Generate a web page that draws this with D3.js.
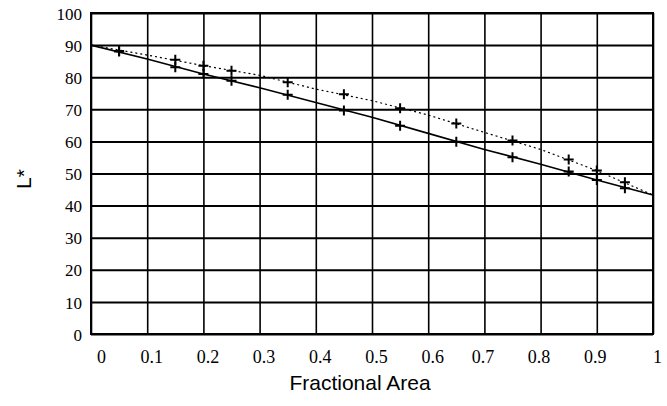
<!DOCTYPE html>
<html>
<head>
<meta charset="utf-8">
<script src="https://cdnjs.cloudflare.com/ajax/libs/d3/7.8.5/d3.min.js"></script>
<style>
  body { margin: 0; background: #fff; }
  .tick text { font-family: "Liberation Serif", "Times New Roman", serif; fill: #000; }
  .axis-title { font-family: "Liberation Sans", Arial, sans-serif; fill: #000; }
</style>
</head>
<body>
<div id="V1"></div>
<script>
// curve values read at every 0.1 of fractional area
const lineX = [0, 0.1, 0.2, 0.3, 0.4, 0.5, 0.6, 0.7, 0.8, 0.9, 1];
const upperLine = [90, 86.9, 83.6, 80.6, 76.3, 72.7, 68.2, 62.8, 57.5, 50.9, 43.3];
const lowerLine = [90, 85.7, 81.0, 76.7, 72.1, 67.5, 62.5, 57.5, 52.9, 48.0, 43.3];

// measured points (+ markers)
const pointX = [0.05, 0.15, 0.2, 0.25, 0.35, 0.45, 0.55, 0.65, 0.75, 0.85, 0.9, 0.95];
const upperPoints = [88.2, 85.4, 83.6, 82.0, 78.4, 74.7, 70.3, 65.6, 60.3, 54.4, 50.9, 47.3];
const lowerPoints = [88.0, 83.1, 81.0, 78.9, 74.5, 69.6, 64.9, 59.9, 55.1, 50.6, 48.0, 45.4];

const xTicks = [0, 0.1, 0.2, 0.3, 0.4, 0.5, 0.6, 0.7, 0.8, 0.9, 1];
const yTicks = [0, 10, 20, 30, 40, 50, 60, 70, 80, 90, 100];

const margin = { top: 13, right: 14, bottom: 72, left: 91 },
  width  = 667 - margin.left - margin.right,
  height = 406 - margin.top - margin.bottom;

const svg = d3.select("#V1").append("svg")
  .attr("width", 667)
  .attr("height", 406);

const canvas = svg.append("g")
  .attr("transform", "translate(" + margin.left + "," + margin.top + ")");

const xScale = d3.scaleLinear().domain([0, 1]).range([0, width]);
const yScale = d3.scaleLinear().domain([0, 100]).range([height, 0]);

// grid
canvas.append("g")
  .attr("class", "grid grid-x")
  .attr("transform", "translate(0," + height + ")")
  .call(d3.axisBottom(xScale).tickValues(xTicks).tickSize(-height).tickFormat(""))
  .call(g => g.select(".domain").remove());

canvas.append("g")
  .attr("class", "grid grid-y")
  .call(d3.axisLeft(yScale).tickValues(yTicks).tickSize(-width).tickFormat(""))
  .call(g => g.select(".domain").remove());

canvas.selectAll(".grid-x line")
  .attr("stroke", "#000")
  .attr("stroke-width", 1.6);
canvas.selectAll(".grid-y line")
  .attr("stroke", "#000")
  .attr("stroke-width", 2);

// frame
canvas.append("rect")
  .attr("width", width)
  .attr("height", height)
  .attr("fill", "none")
  .attr("stroke", "#000")
  .attr("stroke-width", 2);

// tick labels
const xAxis = canvas.append("g")
  .attr("transform", "translate(0," + height + ")")
  .call(d3.axisBottom(xScale).tickValues(xTicks).tickSize(0).tickPadding(0)
    .tickFormat(d => d === 0 || d === 1 ? String(d) : d3.format(".1f")(d)));
xAxis.select(".domain").remove();
xAxis.selectAll("text")
  .attr("y", 29)
  .attr("dy", 0)
  .attr("dx", d => d === 0 ? 10 : (d >= 0.7 && d < 1 ? -2 : 4))
  .style("font-size", "18px");

const yAxis = canvas.append("g")
  .call(d3.axisLeft(yScale).tickValues(yTicks).tickSize(0).tickPadding(9));
yAxis.select(".domain").remove();
yAxis.selectAll("text")
  .attr("dy", "0.36em")
  .style("font-size", "17px");

// axis titles
canvas.append("text")
  .attr("class", "axis-title")
  .attr("x", 269)
  .attr("y", height + 56)
  .attr("text-anchor", "middle")
  .style("font-size", "21px")
  .text("Fractional Area");

canvas.append("text")
  .attr("class", "axis-title")
  .attr("transform", "translate(" + (31 - margin.left) + "," + (179 - margin.top) + ") rotate(-90)")
  .attr("text-anchor", "middle")
  .style("font-size", "21px")
  .text("L*");

// curves
const line = d3.line()
  .x(d => xScale(d[0]))
  .y(d => yScale(d[1]));

canvas.append("path")
  .datum(lineX.map((x, i) => [x, upperLine[i]]))
  .attr("d", line)
  .attr("fill", "none")
  .attr("stroke", "#000")
  .attr("stroke-width", 1.2)
  .attr("stroke-dasharray", "2,3");

canvas.append("path")
  .datum(lineX.map((x, i) => [x, lowerLine[i]]))
  .attr("d", line)
  .attr("fill", "none")
  .attr("stroke", "#000")
  .attr("stroke-width", 1.6);

// plus markers
const drawPlus = function(values) {
  canvas.append("g").selectAll("path")
    .data(pointX.map((x, i) => [x, values[i]]))
    .enter().append("path")
    .attr("d", "M-5,0H5M0,-5V5")
    .attr("transform", d => "translate(" + xScale(d[0]) + "," + yScale(d[1]) + ")")
    .attr("fill", "none")
    .attr("stroke", "#000")
    .attr("stroke-width", 2);
};
drawPlus(upperPoints);
drawPlus(lowerPoints);
</script>
</body>
</html>
